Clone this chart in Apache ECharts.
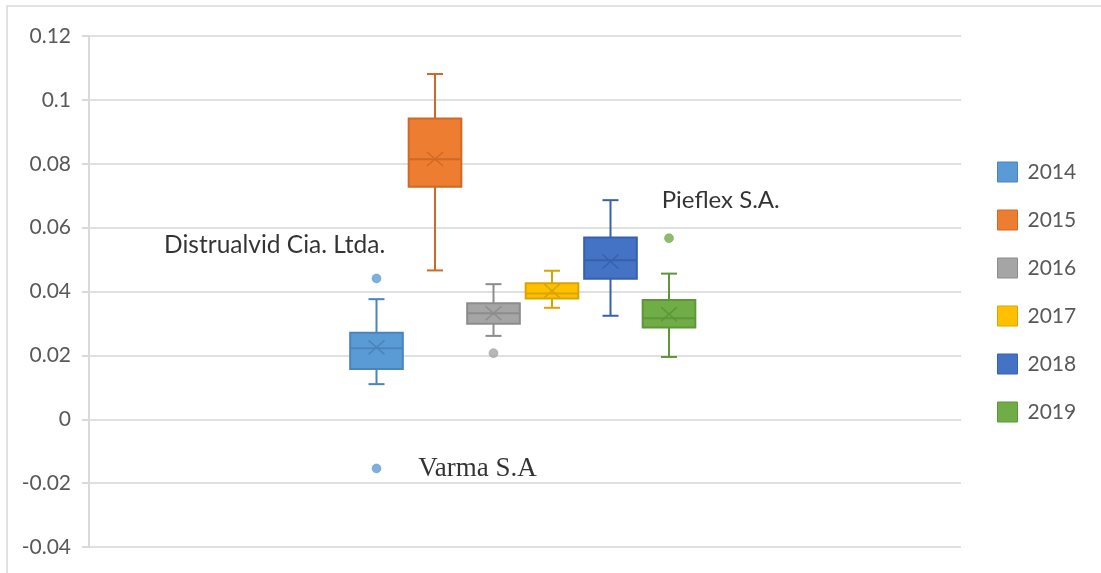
<!DOCTYPE html>
<html>
<head>
<meta charset="utf-8">
<script src="https://cdn.jsdelivr.net/npm/echarts@6/dist/echarts.min.js"></script>
<style>html,body{margin:0;padding:0;background:#fff}#c{width:1101px;height:573px}</style>
</head>
<body>
<div id="c"></div>
<script>
var years = ['2014', '2015', '2016', '2017', '2018', '2019'];
var minV  = [0.0110, 0.0466, 0.0261, 0.0349, 0.0324, 0.0195];
var q1V   = [0.0157, 0.0728, 0.0299, 0.0378, 0.0440, 0.0287];
var medV  = [0.0222, 0.0814, 0.0332, 0.0394, 0.0498, 0.0316];
var q3V   = [0.0271, 0.0942, 0.0363, 0.0426, 0.0569, 0.0373];
var maxV  = [0.0376, 0.1081, 0.0423, 0.0465, 0.0686, 0.0456];
var meanV = [0.0225, 0.0815, 0.0332, 0.0402, 0.0494, 0.0329];
var outlierYear = [0, 0, 2, 5];
var outlierVal  = [0.0441, -0.0154, 0.0207, 0.0567];
var outlierName = ['Distrualvid Cia. Ltda.', 'Varma S.A', '', 'Pieflex S.A.'];
var yTicks = [-0.04, -0.02, 0, 0.02, 0.04, 0.06, 0.08, 0.1, 0.12];

var fills   = ['#5B9BD5', '#ED7D31', '#A5A5A5', '#FFC000', '#4472C4', '#70AD47'];
var borders = ['#4A84BD', '#CF6A26', '#8C8C8C', '#D9A400', '#3761AD', '#5E9639'];

var labelStyles = [
  {show: true, position: [13.5, -28.5], align: 'right', verticalAlign: 'middle', fontFamily: 'Lato', fontSize: 24.5, color: '#000'},
  {show: true, position: 'right', distance: 37, verticalAlign: 'middle', fontFamily: 'Liberation Serif', fontSize: 27, color: '#000'},
  {show: false},
  {show: true, position: [-2.5, -33], align: 'left', verticalAlign: 'middle', fontFamily: 'Lato', fontSize: 24, color: '#000'}
];

function renderBox(params, api) {
  var x = api.value(0);
  var pMin = api.coord([x, api.value(1)]);
  var pQ1 = api.coord([x, api.value(2)]);
  var pMed = api.coord([x, api.value(3)]);
  var pQ3 = api.coord([x, api.value(4)]);
  var pMax = api.coord([x, api.value(5)]);
  var pMean = api.coord([x, api.value(6)]);
  var bw = api.size([1, 0])[0] * 0.9;
  var hw = bw / 2;
  var cap = 8;
  var cx = pMed[0];
  var idx = params.seriesIndex;
  var fill = fills[idx], stroke = borders[idx];
  var ls = {stroke: stroke, lineWidth: 2, fill: null};
  return {
    type: 'group',
    children: [
      {type: 'line', shape: {x1: cx, y1: pQ3[1], x2: cx, y2: pMax[1]}, style: ls},
      {type: 'line', shape: {x1: cx, y1: pQ1[1], x2: cx, y2: pMin[1]}, style: ls},
      {type: 'line', shape: {x1: cx - cap, y1: pMax[1], x2: cx + cap, y2: pMax[1]}, style: ls},
      {type: 'line', shape: {x1: cx - cap, y1: pMin[1], x2: cx + cap, y2: pMin[1]}, style: ls},
      {type: 'rect', shape: {x: cx - hw, y: pQ3[1], width: bw, height: pQ1[1] - pQ3[1]},
        style: {fill: fill, stroke: stroke, lineWidth: 2}},
      {type: 'line', shape: {x1: cx - hw, y1: pMed[1], x2: cx + hw, y2: pMed[1]}, style: ls},
      {type: 'line', shape: {x1: cx - 8, y1: pMean[1] - 7, x2: cx + 8, y2: pMean[1] + 7}, style: {stroke: stroke, lineWidth: 1.5}},
      {type: 'line', shape: {x1: cx - 8, y1: pMean[1] + 7, x2: cx + 8, y2: pMean[1] - 7}, style: {stroke: stroke, lineWidth: 1.5}}
    ]
  };
}

var series = [];
years.forEach(function (y, i) {
  series.push({
    name: y, type: 'custom', xAxisIndex: 1, yAxisIndex: 1,
    itemStyle: {color: fills[i]},
    renderItem: renderBox,
    encode: {x: 0, y: [1, 2, 3, 4, 5, 6]},
    data: [[i, minV[i], q1V[i], medV[i], q3V[i], maxV[i], meanV[i]]],
    silent: true
  });
});
years.forEach(function (y, i) {
  var pts = [];
  outlierYear.forEach(function (yi, k) {
    if (yi === i) {
      pts.push({value: [yi, outlierVal[k]], label: Object.assign({formatter: outlierName[k]}, labelStyles[k])});
    }
  });
  if (pts.length) {
    series.push({
      name: y, type: 'scatter', xAxisIndex: 1, yAxisIndex: 1,
      symbolSize: 9, itemStyle: {color: fills[i], borderColor: borders[i], borderWidth: 0.5},
      data: pts, silent: true, z: 3
    });
  }
});

var chart = echarts.init(document.getElementById('c'), null, {renderer: 'canvas'});
chart.setOption({
  animation: false,
  backgroundColor: '#fff',
  graphic: [{type: 'rect', shape: {x: 7, y: 6, width: 1300, height: 800}, style: {fill: null, stroke: '#d9d9d9', lineWidth: 1.5}, silent: true}],
  legend: {
    orient: 'vertical', left: 992, top: 156.5, itemWidth: 20, itemHeight: 20, itemGap: 27,
    icon: 'rect', selectedMode: false,
    textStyle: {fontFamily: 'Lato', fontSize: 21, lineHeight: 20, color: '#595959', padding: [0, 0, 0, 5]},
    data: years.map(function (y, i) {
      return {name: y, itemStyle: {color: fills[i], borderColor: borders[i], borderWidth: 1}};
    })
  },
  grid: [
    {left: 89, right: 140, top: 36, bottom: 26, containLabel: false},
    {left: 347.25, right: 402.75, top: 36, bottom: 26, containLabel: false}
  ],
  xAxis: [
    {type: 'category', gridIndex: 0, data: [''], show: false},
    {type: 'category', gridIndex: 1, data: years, show: false, boundaryGap: true}
  ],
  yAxis: [
    {type: 'value', gridIndex: 0, min: yTicks[0], max: yTicks[yTicks.length - 1], interval: 0.02,
      axisLine: {show: true, lineStyle: {color: '#d9d9d9', width: 2}},
      axisTick: {show: true, inside: false, length: 7, lineStyle: {color: '#d9d9d9', width: 2}},
      splitLine: {show: true, lineStyle: {color: '#e0e0e0', width: 2}},
      axisLabel: {margin: 18, fontFamily: 'Lato', fontSize: 21, color: '#595959',
        formatter: function (v) { return String(+v.toFixed(2)); }}
    },
    {type: 'value', gridIndex: 1, min: yTicks[0], max: yTicks[yTicks.length - 1], interval: 0.02, show: false, splitLine: {show: false}}
  ],
  series: series
});
</script>
</body>
</html>
